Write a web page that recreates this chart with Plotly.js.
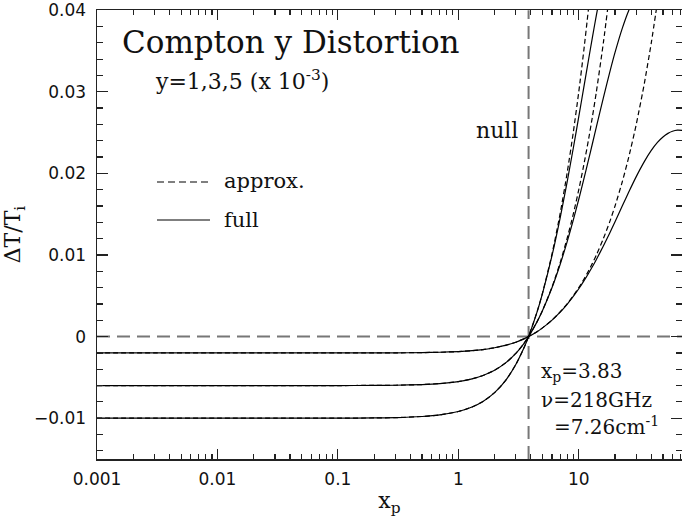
<!DOCTYPE html>
<html>
<head>
<meta charset="utf-8">
<script src="https://cdn.plot.ly/plotly-3.0.1.min.js"></script>
<style>html,body{margin:0;padding:0;background:#fff;}#chart{width:682px;height:517px;}</style>
</head>
<body>
<div id="chart"></div>
<script>
// x_p grid (shared by all curves)
const xp = [0.001, 0.003, 0.01, 0.03, 0.1, 0.2, 0.3, 0.5, 0.7, 1, 1.3, 1.6, 2, 2.5, 3, 3.5, 3.83,
  4.5, 5, 6, 7, 8, 9, 10, 11, 12, 13, 14, 16, 18, 20, 23, 26, 30, 35, 40, 45, 50, 55, 60, 66, 72];

// approx. (dashed) curves, y = 5, 3, 1 (x 10^-3)
const approxY5 = [-0.0100, -0.0100, -0.0100, -0.0100, -0.00999, -0.00997, -0.00993, -0.00979, -0.00960,
  -0.00918, -0.00863, -0.00795, -0.00687, -0.00526, -0.00343, -0.00141, 0.0000,
  0.00301, 0.00534, 0.01015, 0.01506, 0.02003, 0.02501, 0.03000, 0.03500, 0.04000, 0.04500];
const approxY3 = [-0.0060, -0.0060, -0.0060, -0.0060, -0.00600, -0.00598, -0.00596, -0.00588, -0.00576,
  -0.00551, -0.00518, -0.00477, -0.00412, -0.00316, -0.00206, -0.00085, 0.0000,
  0.00180, 0.00320, 0.00609, 0.00904, 0.01202, 0.01501, 0.01800, 0.02100, 0.02400, 0.02700, 0.03000,
  0.03600, 0.04200];
const approxY1 = [-0.0020, -0.0020, -0.0020, -0.0020, -0.00200, -0.00199, -0.00199, -0.00196, -0.00192,
  -0.00184, -0.00173, -0.00159, -0.00137, -0.00105, -0.00069, -0.00028, 0.0000,
  0.00060, 0.00107, 0.00203, 0.00301, 0.00401, 0.00500, 0.00600, 0.00700, 0.00800, 0.00900, 0.01000,
  0.01200, 0.01400, 0.01600, 0.01900, 0.02200, 0.02600, 0.03100, 0.03600, 0.04100];

// full (solid) curves
const fullY5 = [-0.0100, -0.0100, -0.0100, -0.0100, -0.00999, -0.00997, -0.00993, -0.00979, -0.00960,
  -0.00918, -0.00863, -0.00795, -0.00687, -0.00526, -0.00343, -0.00141, 0.0000,
  0.00299, 0.00530, 0.00995, 0.01453, 0.01893, 0.02308, 0.02695, 0.03051, 0.03377, 0.03673, 0.03940,
  0.04391];
const fullY3 = [-0.0060, -0.0060, -0.0060, -0.0060, -0.00600, -0.00598, -0.00596, -0.00588, -0.00576,
  -0.00551, -0.00518, -0.00477, -0.00412, -0.00316, -0.00206, -0.00085, 0.0000,
  0.00180, 0.00319, 0.00602, 0.00884, 0.01161, 0.01428, 0.01683, 0.01926, 0.02155, 0.02369, 0.02569,
  0.02926, 0.03229, 0.03482, 0.03780, 0.03997, 0.04188];
const fullY1 = [-0.0020, -0.0020, -0.0020, -0.0020, -0.00200, -0.00199, -0.00199, -0.00196, -0.00192,
  -0.00184, -0.00173, -0.00159, -0.00137, -0.00105, -0.00069, -0.00028, 0.0000,
  0.00060, 0.00107, 0.00202, 0.00299, 0.00396, 0.00492, 0.00586, 0.00679, 0.00770, 0.00858, 0.00945,
  0.01110, 0.01264, 0.01408, 0.01602, 0.01771, 0.01960, 0.02144, 0.02281, 0.02379, 0.02446, 0.02490,
  0.02516, 0.02529, 0.02527];

// null reference lines
const nullX = [3.83, 3.83];
const nullY = [-0.015, 0.04];
const zeroX = [0.001, 72];
const zeroY = [0, 0];

const serif = '"DejaVu Serif", "Liberation Serif", serif';
const sans = '"DejaVu Sans", "Liberation Sans", sans-serif';

const refLine = {color: '#777', width: 2, dash: '13px,7px'};
const solid = {color: '#000', width: 1.2, shape: 'spline', smoothing: 0.6};
const dashed = {color: '#000', width: 1.2, dash: '5px,3px', shape: 'spline', smoothing: 0.6};

const traces = [
  {x: nullX, y: nullY, mode: 'lines', line: refLine},
  {x: zeroX, y: zeroY, mode: 'lines', line: refLine},
  {x: xp, y: approxY5, mode: 'lines', line: dashed, name: 'approx. y=5'},
  {x: xp, y: approxY3, mode: 'lines', line: dashed, name: 'approx. y=3'},
  {x: xp, y: approxY1, mode: 'lines', line: dashed, name: 'approx. y=1'},
  {x: xp, y: fullY5, mode: 'lines', line: solid, name: 'full y=5'},
  {x: xp, y: fullY3, mode: 'lines', line: solid, name: 'full y=3'},
  {x: xp, y: fullY1, mode: 'lines', line: solid, name: 'full y=1'}
];

// plot area: left 97, right 682, top 10, bottom 459
const L = 97, R = 682, T = 10, B = 459;
const px = v => (v - L) / (R - L);
const py = v => (B - v) / (B - T);

const layout = {
  width: 682, height: 517,
  margin: {l: L, r: 682 - R, t: T, b: 517 - B},
  paper_bgcolor: '#fff', plot_bgcolor: '#fff',
  showlegend: false,
  xaxis: {
    type: 'log', range: [-3, 1.857], autorange: false,
    showgrid: false, zeroline: false,
    showline: true, linecolor: '#222', linewidth: 1.5, mirror: 'ticks',
    ticks: 'inside', ticklen: 10, tickwidth: 1.2, tickcolor: '#222',
    tickmode: 'linear', tick0: 0, dtick: 1,
    ticklabelstandoff: 4,
    tickfont: {family: sans, size: 17, color: '#111'},
    minor: {dtick: 'D1', ticks: 'inside', ticklen: 5, tickwidth: 1.2, tickcolor: '#222', showgrid: false},
    title: {text: 'x<sub>p</sub>', font: {family: serif, size: 22, color: '#111'}, standoff: 10}
  },
  yaxis: {
    range: [-0.015, 0.04002], autorange: false,
    showgrid: false, zeroline: false,
    showline: true, linecolor: '#222', linewidth: 1.5, mirror: 'ticks',
    ticks: 'inside', ticklen: 11, tickwidth: 1.2, tickcolor: '#222',
    tickmode: 'linear', tick0: 0, dtick: 0.01,
    ticklabelstandoff: 6,
    tickfont: {family: sans, size: 17, color: '#111'},
    minor: {dtick: 0.002, tick0: 0, ticks: 'inside', ticklen: 6, tickwidth: 1.2, tickcolor: '#222', showgrid: false},
    title: {text: '\u0394T/T<sub>i</sub>', font: {family: serif, size: 22, color: '#111'}, standoff: 8}
  },
  shapes: [
    {type: 'line', xref: 'paper', yref: 'paper', x0: px(157), x1: px(210), y0: py(182), y1: py(182),
     line: {color: '#000', width: 1.2, dash: '7px,4px'}},
    {type: 'line', xref: 'paper', yref: 'paper', x0: px(157), x1: px(210), y0: py(220), y1: py(220),
     line: {color: '#000', width: 1.2}}
  ],
  annotations: [
    {text: 'Compton y Distortion', xref: 'paper', yref: 'paper', x: px(120), y: py(42), xanchor: 'left', yanchor: 'middle',
     showarrow: false, font: {family: serif, size: 31, color: '#111'}},
    {text: 'y=1,3,5 (x 10<sup>-3</sup>)', xref: 'paper', yref: 'paper', x: px(153), y: py(80), xanchor: 'left', yanchor: 'middle',
     showarrow: false, font: {family: serif, size: 22, color: '#111'}},
    {text: 'null', xref: 'paper', yref: 'paper', x: px(520), y: py(130), xanchor: 'right', yanchor: 'middle',
     showarrow: false, font: {family: serif, size: 22, color: '#111'}},
    {text: 'approx.', xref: 'paper', yref: 'paper', x: px(222), y: py(181), xanchor: 'left', yanchor: 'middle',
     showarrow: false, font: {family: serif, size: 21, color: '#111'}},
    {text: 'full', xref: 'paper', yref: 'paper', x: px(222), y: py(220), xanchor: 'left', yanchor: 'middle',
     showarrow: false, font: {family: serif, size: 21, color: '#111'}},
    {text: 'x<sub>p</sub>=3.83', xref: 'paper', yref: 'paper', x: px(539), y: py(372), xanchor: 'left', yanchor: 'middle',
     showarrow: false, font: {family: serif, size: 20, color: '#111'}},
    {text: '\u03bd=218GHz', xref: 'paper', yref: 'paper', x: px(539), y: py(400), xanchor: 'left', yanchor: 'middle',
     showarrow: false, font: {family: serif, size: 20, color: '#111'}},
    {text: '=7.26cm<sup>-1</sup>', xref: 'paper', yref: 'paper', x: px(552), y: py(426), xanchor: 'left', yanchor: 'middle',
     showarrow: false, font: {family: serif, size: 20, color: '#111'}}
  ]
};

Plotly.newPlot('chart', traces, layout, {staticPlot: true, displayModeBar: false});
</script>
</body>
</html>
